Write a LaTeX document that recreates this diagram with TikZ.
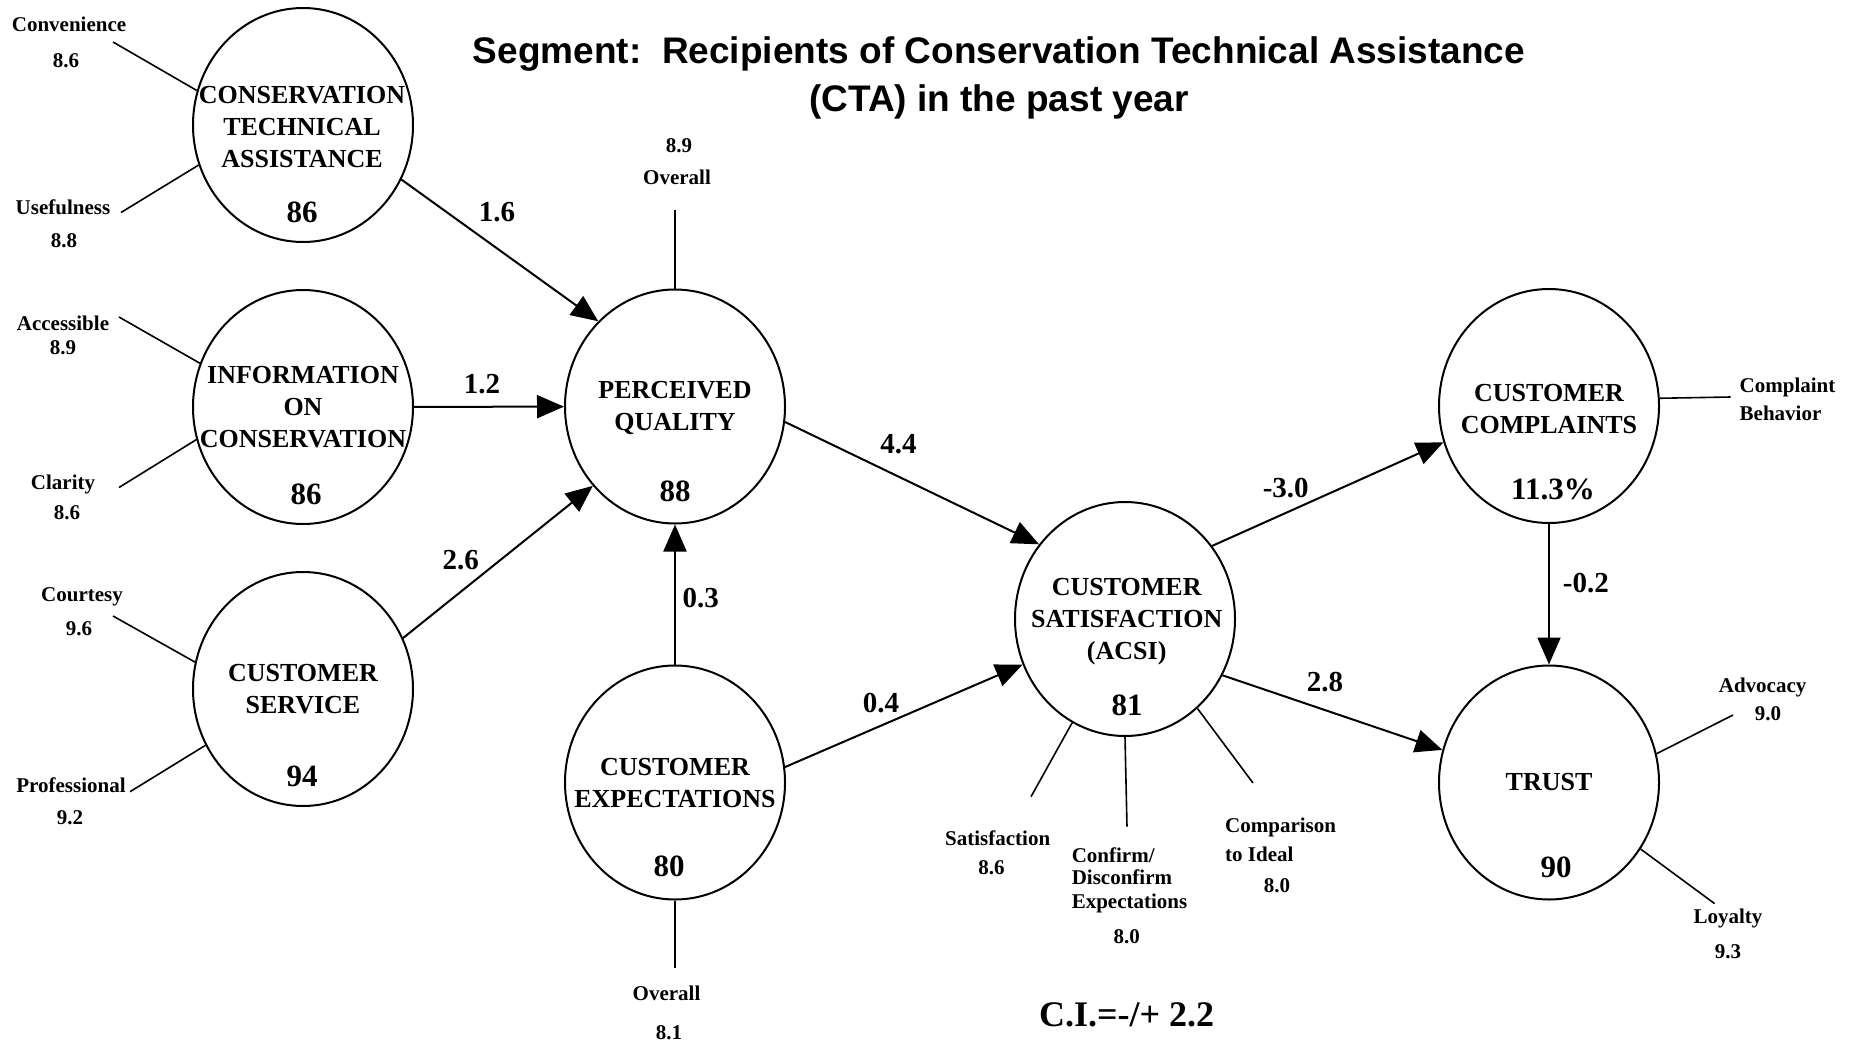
\documentclass[tikz,border=0pt]{standalone}
\usepackage{fontspec}
\setmainfont{Liberation Serif}
\newfontfamily\titlefont{Liberation Sans}
\usetikzlibrary{shapes.geometric,arrows.meta}
\begin{document}
\begin{tikzpicture}[x=1pt,y=-1pt,
  construct/.style={draw,ellipse,line width=2pt,minimum width=220pt,minimum height=234pt,inner sep=0pt},
  ctitle/.style={font=\fontsize{26}{32}\selectfont\bfseries,align=center,inner sep=0pt},
  cscore/.style={font=\fontsize{31}{31}\selectfont\bfseries,inner sep=0pt},
  coef/.style={font=\fontsize{29}{29}\selectfont\bfseries,inner sep=0pt},
  mlabel/.style={font=\fontsize{21}{24}\selectfont\bfseries,inner sep=0pt},
  ttl/.style={font=\titlefont\bfseries\fontsize{37}{40}\selectfont,inner sep=0pt},
  flow/.style={line width=2pt,-{Triangle[length=27pt,width=23pt]}},
  spoke/.style={line width=1.6pt}
]
\useasboundingbox (0,0) rectangle (1858,1047);

% title
\node[ttl] (title1) at (999,54.5) {Segment:\ \ Recipients of Conservation Technical Assistance};
\node[ttl] (title2) at (999,102) {(CTA) in the past year};

% constructs
\node[construct] (cta) at (303,125) {};
\node[construct] (info) at (303,407) {};
\node[construct] (cs) at (303,689) {};
\node[construct] (pq) at (675,406.5) {};
\node[construct] (ce) at (675,782.5) {};
\node[construct] (csat) at (1125,619) {};
\node[construct] (cc) at (1549,406) {};
\node[construct] (trust) at (1549,782.5) {};

% construct texts
\node[ctitle] (cta-t) at (302,127.5) {CONSERVATION\\TECHNICAL\\ASSISTANCE};
\node[cscore] (cta-v) at (302,212.5) {86};
\node[ctitle] (info-t) at (303,407) {INFORMATION\\ON\\CONSERVATION};
\node[cscore] (info-v) at (306,494.6) {86};
\node[ctitle] (cs-t) at (303,689) {CUSTOMER\\SERVICE};
\node[cscore] (cs-v) at (302,776.7) {94};
\node[ctitle] (pq-t) at (675,407.5) {PERCEIVED\\QUALITY};
\node[cscore] (pq-v) at (675,491) {88};
\node[ctitle] (ce-t) at (675,783.4) {CUSTOMER\\EXPECTATIONS};
\node[cscore] (ce-v) at (669,866.7) {80};
\node[ctitle] (csat-t) at (1126.7,622) {CUSTOMER\\SATISFACTION\\(ACSI)};
\node[cscore] (csat-v) at (1127,705) {81};
\node[ctitle] (cc-t) at (1549,409.4) {CUSTOMER\\COMPLAINTS};
\node[cscore] (cc-v) at (1553,489.7) {11.3\%};
\node[ctitle] (trust-t) at (1549,782) {TRUST};
\node[cscore] (trust-v) at (1556,867) {90};

% flows
\draw[flow] (cta.-29.7) -- (pq.132.3);
\draw[flow] (info) -- (pq);
\draw[flow] (cs.27.1) -- (pq.224.6);
\draw[flow] (ce.north) -- (pq.south);
\draw[flow] (pq.-8.1) -- (csat.139.7);
\draw[flow] (ce.8.8) -- (csat.204);
\draw[flow] (csat.40.7) -- (cc.199.4);
\draw[flow] (cc.south) -- (trust.north);
\draw[flow] (csat.-30.6) -- (trust.163.6);

% coefficients
\node[coef] (k1) at (497,212.5) {1.6};
\node[coef] (k2) at (482,384) {1.2};
\node[coef] (k3) at (460.7,560) {2.6};
\node[coef] (k4) at (898.5,444.6) {4.4};
\node[coef] (k5) at (700.7,598) {0.3};
\node[coef] (k6) at (881,703) {0.4};
\node[coef] (k7) at (1285.7,488) {-3.0};
\node[coef] (k8) at (1585.8,583.5) {-0.2};
\node[coef] (k9) at (1325,681.7) {2.8};

% spoke ends
\coordinate (e1) at (113,42);
\coordinate (e2) at (121,212.5);
\coordinate (e3) at (119,317);
\coordinate (e4) at (119,487.5);
\coordinate (e5) at (113,616);
\coordinate (e6) at (130,791.7);
\coordinate (e7) at (675,209.6);
\coordinate (e8) at (675,968);
\coordinate (e9) at (1031,796.7);
\coordinate (e10) at (1127,826.7);
\coordinate (e11) at (1253,783);
\coordinate (e12) at (1730.6,397);
\coordinate (e13) at (1733,715);
\coordinate (e14) at (1714.6,903.6);

\draw[spoke] (cta.162.7) -- (e1);
\draw[spoke] (cta.201.3) -- (e2);
\draw[spoke] (info.157.4) -- (e3);
\draw[spoke] (info.197.6) -- (e4);
\draw[spoke] (cs.166.5) -- (e5);
\draw[spoke] (cs.210.2) -- (e6);
\draw[spoke] (pq.north) -- (e7);
\draw[spoke] (ce.south) -- (e8);
\draw[spoke] (csat.243.4) -- (e9);
\draw[spoke] (csat.south) -- (e10);
\draw[spoke] (csat.-51.3) -- (e11);
\draw[spoke] (cc.4.6) -- (e12);
\draw[spoke] (trust.15.3) -- (e13);
\draw[spoke] (trust.-36.3) -- (e14);

% measure labels
\node[mlabel] (m1) at (69,24) {Convenience};
\node[mlabel] (m1v) at (66,61) {8.6};
\node[mlabel] (m2) at (63,207) {Usefulness};
\node[mlabel] (m2v) at (64,241) {8.8};
\node[mlabel] (m3) at (63,323) {Accessible};
\node[mlabel] (m3v) at (63,348) {8.9};
\node[mlabel] (m4) at (63,484) {Clarity};
\node[mlabel] (m4v) at (67,512.5) {8.6};
\node[mlabel] (m5) at (82,597) {Courtesy};
\node[mlabel] (m5v) at (79,629) {9.6};
\node[mlabel] (m6) at (71,785) {Professional};
\node[mlabel] (m6v) at (70,818) {9.2};
\node[mlabel] (m7v) at (679,146) {8.9};
\node[mlabel] (m7) at (677,177) {Overall};
\node[mlabel] (m8) at (666.5,993) {Overall};
\node[mlabel] (m8v) at (669,1033) {8.1};
\node[mlabel] (m9) at (997.7,838) {Satisfaction};
\node[mlabel] (m9v) at (991.5,868) {8.6};
\node[mlabel,anchor=west] (m10a) at (1071.6,855) {Confirm/};
\node[mlabel,anchor=west] (m10b) at (1071.6,877.5) {Disconfirm};
\node[mlabel,anchor=west] (m10c) at (1071.6,903) {Expectations};
\node[mlabel] (m10v) at (1126.7,936.7) {8.0};
\node[mlabel,anchor=west] (m11a) at (1225,827) {Comparison};
\node[mlabel,anchor=west] (m11b) at (1225,854) {to Ideal};
\node[mlabel] (m11v) at (1277,886) {8.0};
\node[mlabel,anchor=west] (m12a) at (1739.5,387) {Complaint};
\node[mlabel,anchor=west] (m12b) at (1739.5,413) {Behavior};
\node[mlabel] (m13) at (1762.6,687.5) {Advocacy};
\node[mlabel] (m13v) at (1768,714) {9.0};
\node[mlabel] (m14) at (1728,918) {Loyalty};
\node[mlabel] (m14v) at (1728,951.8) {9.3};

% confidence interval
\node[font=\fontsize{36}{36}\selectfont\bfseries,inner sep=0pt] (ci) at (1126.7,1015) {C.I.=-/+ 2.2};
\end{tikzpicture}
\end{document}
